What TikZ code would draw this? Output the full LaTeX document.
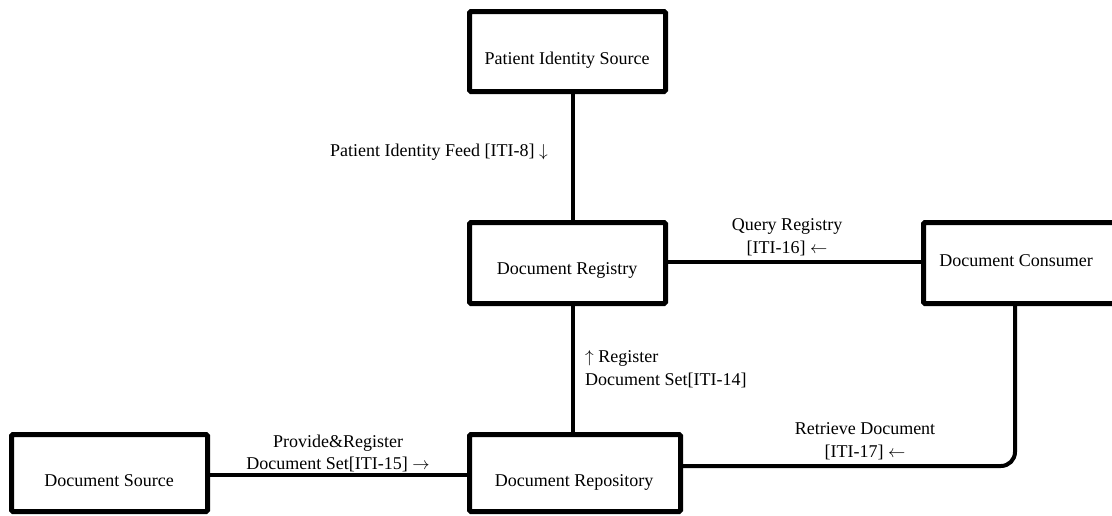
\documentclass[tikz,border=0pt]{standalone}
\usepackage{fontspec}
\setmainfont{Liberation Serif}
\begin{document}
\begin{tikzpicture}[x=1pt,y=-1pt,
  actor/.style={draw, line width=5pt, rounded corners=1.5pt, inner sep=0pt,
    minimum width=196pt, minimum height=81pt},
  conn/.style={draw, line width=4pt, line cap=round},
  txt/.style={inner sep=0pt, anchor=base, font=\fontsize{18}{22}\selectfont},
  ltxt/.style={txt, anchor=base west}]
\useasboundingbox (0,0) rectangle (1112,515);

% actors
\node[actor, minimum height=80pt] (pis) at (567.5,51.5) {};
\node[actor] (reg) at (567.5,263) {};
\node[actor, minimum width=204pt] (con) at (1025.5,263) {};
\node[actor, minimum width=211pt, minimum height=77pt] (rep) at (575,473) {};
\node[actor, minimum height=77pt] (src) at (109.5,473) {};

% actor names
\node[txt] (pisT) at (567,64) {Patient Identity Source};
\node[txt] (regT) at (567,274) {Document Registry};
\node[txt] (conT) at (1016,266) {Document Consumer};
\node[txt] (repT) at (574,486) {Document Repository};
\node[txt] (srcT) at (109,486) {Document Source};

% transactions
\draw[conn] ([xshift=5.5pt]pis.south) -- ([xshift=5.5pt]pis.south |- reg.north);
\draw[conn] ([yshift=1pt]reg.east) -- ([yshift=1pt]reg.east -| con.west);
\draw[conn] ([xshift=5.5pt]reg.south) -- ([xshift=5.5pt]reg.south |- rep.north);
\draw[conn] ([yshift=-2pt]src.east) -- ([yshift=-2pt]src.east -| rep.west);
\draw[conn, rounded corners=14pt] ([yshift=7pt]rep.east) -| ([xshift=-10.5pt]con.south);

% transaction labels
\node[txt, anchor=base east] (feed) at (548,156) {Patient Identity Feed [ITI-8] $\downarrow$};
\node[txt] (qry1) at (787,230) {Query Registry};
\node[txt] (qry2) at (787,253) {[ITI-16] $\leftarrow$};
\node[ltxt] (regs1) at (585,362) {$\uparrow$ Register};
\node[ltxt] (regs2) at (585,385) {Document Set[ITI-14]};
\node[txt] (ret1) at (865,434) {Retrieve Document};
\node[txt] (ret2) at (865,457) {[ITI-17] $\leftarrow$};
\node[txt] (prov1) at (338,447) {Provide\&Register};
\node[txt] (prov2) at (338,469) {Document Set[ITI-15] $\rightarrow$};
\end{tikzpicture}
\end{document}
